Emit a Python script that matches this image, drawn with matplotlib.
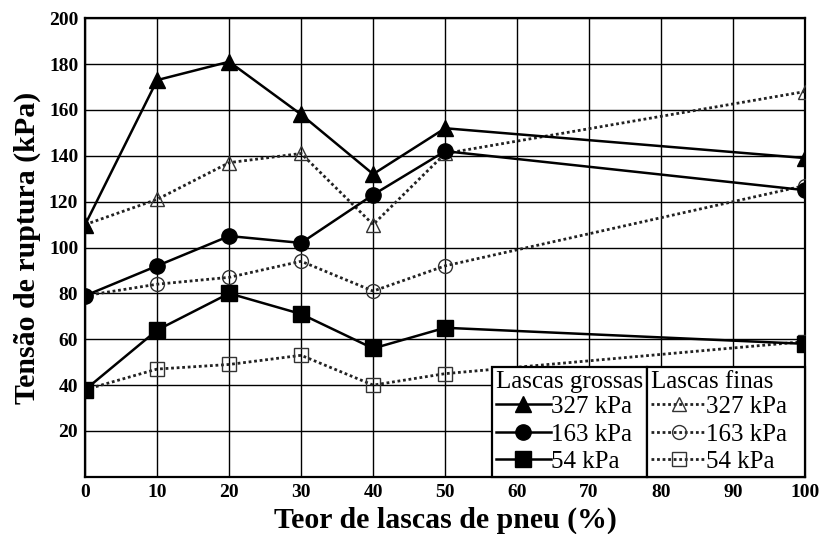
import matplotlib
matplotlib.use("Agg")
import matplotlib.pyplot as plt

teor = [0, 10, 20, 30, 40, 50, 100]

# lascas grossas
g327 = [110, 173, 181, 158, 132, 152, 139]
g163 = [79, 92, 105, 102, 123, 142, 125]
g54 = [38, 64, 80, 71, 56, 65, 58]

# lascas finas
f327 = [110, 121, 137, 141, 110, 141, 168]
f163 = [79, 84, 87, 94, 81, 92, 127]
f54 = [38, 47, 49, 53, 40, 45, 59]

labels = ["327 kPa", "163 kPa", "54 kPa"]
markers = ["^", "o", "s"]

plt.rcParams["font.family"] = "Liberation Serif"

fig = plt.figure(figsize=(8.19, 5.34), dpi=100)
ax = fig.add_axes([0.104, 0.107, 0.879, 0.859])

hg = []
for y, m, lab in zip([g327, g163, g54], markers, labels):
    h, = ax.plot(teor, y, color="black", lw=1.8, marker=m, ms=11,
                 mfc="black", mec="black", label=lab, zorder=4)
    hg.append(h)

hf = []
for y, m, lab in zip([f327, f163, f54], markers, labels):
    h, = ax.plot(teor, y, color="#222222", lw=2.0, ls=(0, (1, 1)), marker=m,
                 ms=10, mfc="none", mec="#333333", mew=1.0, label=lab, zorder=3)
    hf.append(h)

ax.set_xlim(0, 100)
ax.set_ylim(0, 200)
ax.set_xticks(range(0, 101, 10))
ax.set_yticks(range(20, 201, 20))
ax.grid(True, color="black", lw=1.0)
ax.tick_params(length=0, pad=5, labelsize=14)
for t in ax.get_xticklabels() + ax.get_yticklabels():
    t.set_fontweight("bold")
for s in ax.spines.values():
    s.set_linewidth(1.6)

ax.set_xlabel("Teor de lascas de pneu (%)", fontsize=21.5, fontweight="bold", labelpad=4)
ax.set_ylabel("Tensão de ruptura (kPa)", fontsize=21.5, fontweight="bold", labelpad=6)

kw = dict(frameon=True, fancybox=False, edgecolor="black", framealpha=1,
          fontsize=18, title_fontsize=18, handlelength=2.2, handletextpad=0.0,
          borderpad=0.15, labelspacing=0.2, borderaxespad=0, alignment="left",
          mode="expand")
leg1 = ax.legend(hg, labels, title="Lascas grossas",
                 bbox_to_anchor=(0.565, 0.0, 0.216, 0.3), loc="lower left", **kw)
leg1.get_frame().set_linewidth(1.6)
leg1._legend_box.sep = 2
ax.add_artist(leg1)
leg2 = ax.legend(hf, labels, title="Lascas finas",
                 bbox_to_anchor=(0.781, 0.0, 0.219, 0.3), loc="lower left", **kw)
leg2.get_frame().set_linewidth(1.6)
leg2._legend_box.sep = 2

fig.savefig("out.png", dpi=100)
